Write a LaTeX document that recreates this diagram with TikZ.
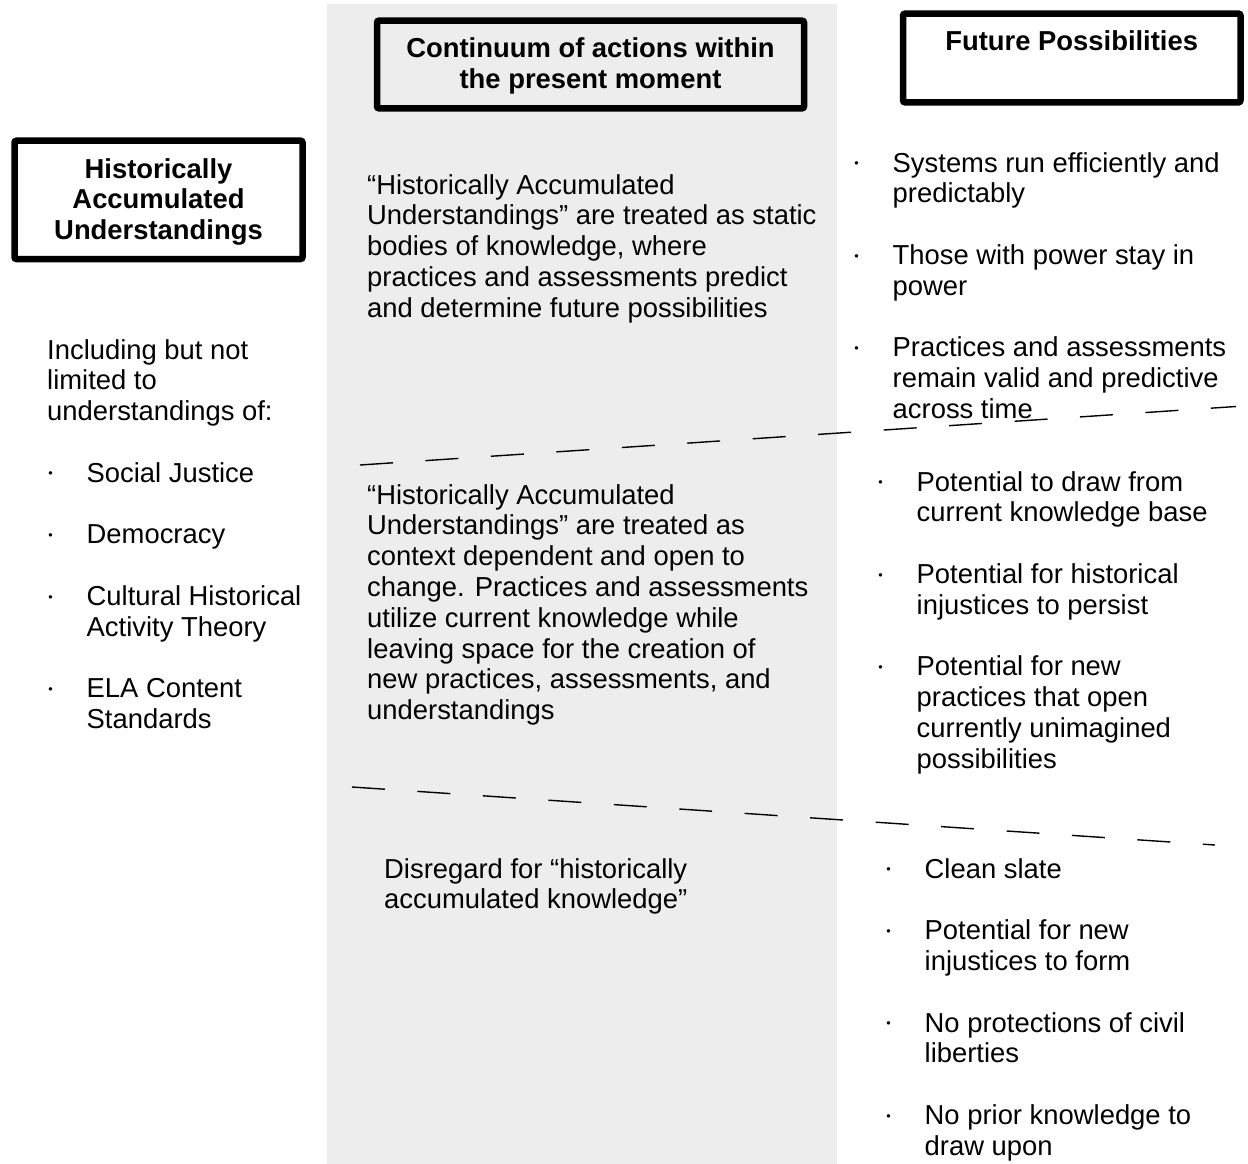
\documentclass[tikz,border=0pt]{standalone}
\usepackage{fontspec}
\setmainfont{Liberation Sans}
\definecolor{panelgray}{HTML}{EDEDED}
% a block of lines whose first baseline is the node's base
\newcommand\lineblock[2]{\parbox[t]{#1}{\raggedright #2}}
% small round bullet mark
\newcommand\bulmark{\hspace{1.1pt}{\fontsize{12.5}{12.5}\selectfont\raisebox{4.3pt}{•}}}
% a bulleted item with a hanging indent
\newcommand\bulitem[2]{\makebox[39.5pt][l]{\bulmark}\parbox[t]{#1}{\raggedright #2}}
\newcommand\headblock[2]{\parbox[t]{#1}{\centering #2}}
\begin{document}
\begin{tikzpicture}[x=1pt,y=-1pt,
  body/.style={inner sep=0pt, anchor=base west, font=\fontsize{27.4}{30.8}\selectfont},
  head/.style={inner sep=0pt, anchor=base, font=\fontsize{27.4}{30.8}\selectfont\bfseries},
  frame/.style={draw=black, line width=6.5pt, rounded corners=2pt, inner sep=0pt},
  divider/.style={draw=black, line width=1.4pt, dash pattern=on 33pt off 32.6pt}]
\useasboundingbox (0,0) rectangle (1248,1164);
\fill[white] (0,0) rectangle (1248,1164);
% central column of the present moment
\fill[panelgray] (327,4) rectangle (837,1164);

% header frames
\node[frame, minimum width=288pt, minimum height=118.3pt] (boxL) at (158.5,199.85) {};
\node[frame, minimum width=427pt, minimum height=87.6pt] (boxM) at (590.5,64.5) {};
\node[frame, minimum width=337.5pt, minimum height=88.6pt] (boxR) at (1071.75,58) {};

% header texts
\node[head] (hL) at (158.5,178) {\headblock{280pt}{Historically\\Accumulated\\Understandings}};
\node[head] (hM) at (590.5,58) {\headblock{420pt}{Continuum of actions within\\the present moment}};
\node[head] (hR) at (1071.7,50.7) {\headblock{330pt}{Future Possibilities}};

% left column
\node[body] (incl) at (47,359) {\lineblock{300pt}{Including but not\\limited to\\understandings of:}};
\node[body] (l1) at (47,482.2) {\bulitem{250pt}{Social Justice}};
\node[body] (l2) at (47,543.8) {\bulitem{250pt}{Democracy}};
\node[body] (l3) at (47,605.4) {\bulitem{250pt}{Cultural Historical\\Activity Theory}};
\node[body] (l4) at (47,697.8) {\bulitem{250pt}{ELA Content\\Standards}};

% middle column
\node[body] (m1) at (367,194) {\lineblock{470pt}{“Historically Accumulated\\Understandings” are treated as static\\bodies of knowledge, where\\practices and assessments predict\\and determine future possibilities}};
\node[body] (m2) at (367,504) {\lineblock{470pt}{“Historically Accumulated\\Understandings” are treated as\\context dependent and open to\\change. Practices and assessments\\utilize current knowledge while\\leaving space for the creation of\\new practices, assessments, and\\understandings}};
\node[body] (m3) at (384,878) {\lineblock{400pt}{Disregard for “historically\\accumulated knowledge”}};

% right column, first band
\node[body] (r1) at (853,172) {\bulitem{360pt}{Systems run efficiently and\\predictably}};
\node[body] (r2) at (853,264.4) {\bulitem{360pt}{Those with power stay in\\power}};
\node[body] (r3) at (853,356.8) {\bulitem{360pt}{Practices and assessments\\remain valid and predictive\\across time}};

% right column, second band
\node[body] (s1) at (877,491) {\bulitem{340pt}{Potential to draw from\\current knowledge base}};
\node[body] (s2) at (877,583.4) {\bulitem{340pt}{Potential for historical\\injustices to persist}};
\node[body] (s3) at (877,675.8) {\bulitem{340pt}{Potential for new\\practices that open\\currently unimagined\\possibilities}};

% right column, third band
\node[body] (t1) at (885,878) {\bulitem{330pt}{Clean slate}};
\node[body] (t2) at (885,939.6) {\bulitem{330pt}{Potential for new\\injustices to form}};
\node[body] (t3) at (885,1032) {\bulitem{330pt}{No protections of civil\\liberties}};
\node[body] (t4) at (885,1124.4) {\bulitem{330pt}{No prior knowledge to\\draw upon}};

% dashed dividers between the bands
\coordinate (d1a) at (360,465);
\coordinate (d1b) at (1236,406.5);
\coordinate (d2a) at (352,787);
\coordinate (d2b) at (1215,845);
\draw[divider] (d1a) -- (d1b);
\draw[divider] (d2a) -- (d2b);
\end{tikzpicture}
\end{document}
